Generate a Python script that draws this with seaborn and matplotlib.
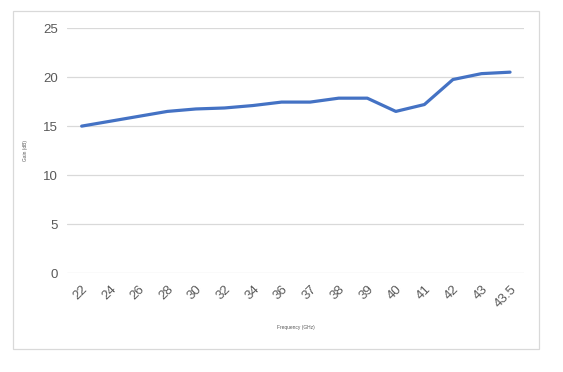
import matplotlib
matplotlib.use('Agg')
import matplotlib.pyplot as plt
import seaborn as sns
from matplotlib.patches import Rectangle

# Gain vs frequency data
freq_labels = ['22', '24', '26', '28', '30', '32', '34', '36', '37',
               '38', '39', '40', '41', '42', '43', '43.5']
gain_db = [15.0, 15.5, 16.0, 16.5, 16.75, 16.85, 17.1, 17.45, 17.45,
           17.85, 17.85, 16.5, 17.2, 19.75, 20.35, 20.5]
y_ticks = [0, 5, 10, 15, 20, 25]

sns.set_theme(style='white')
plt.rcParams['font.family'] = ['Liberation Sans', 'DejaVu Sans']

fig = plt.figure(figsize=(5.63, 3.72), dpi=100)
ax = fig.add_axes([0.1197, 0.2653, 0.8116, 0.6594])

# outer chart border
fig.patches.append(Rectangle((13.3 / 563, 1 - 349.3 / 372), (539.3 - 13.3) / 563,
                             (349.3 - 10.7) / 372, transform=fig.transFigure,
                             fill=False, edgecolor='#d9d9d9', linewidth=0.9))

sns.lineplot(x=freq_labels, y=gain_db, sort=False, color='#4472c4',
             linewidth=2.3, ax=ax)

ax.set_xlim(-0.5, len(freq_labels) - 0.5)
ax.set_ylim(0, 25)
ax.set_yticks(y_ticks)
ax.yaxis.grid(True, color='#d9d9d9', linewidth=0.9)
ax.set_axisbelow(True)
for s in ax.spines.values():
    s.set_visible(False)

ax.tick_params(axis='both', length=0, labelsize=9.5, labelcolor='#595959')
ax.tick_params(axis='y', pad=7)
ax.tick_params(axis='x', pad=7)
plt.setp(ax.get_xticklabels(), rotation=45, ha='right', rotation_mode='anchor')

ax.set_xlabel('Frequency (GHz)', fontsize=3.5, color='#595959', labelpad=11)
ax.set_ylabel('Gain (dB)', fontsize=3.5, color='#595959', labelpad=11)

fig.savefig('out.png', dpi=100, facecolor='white')
